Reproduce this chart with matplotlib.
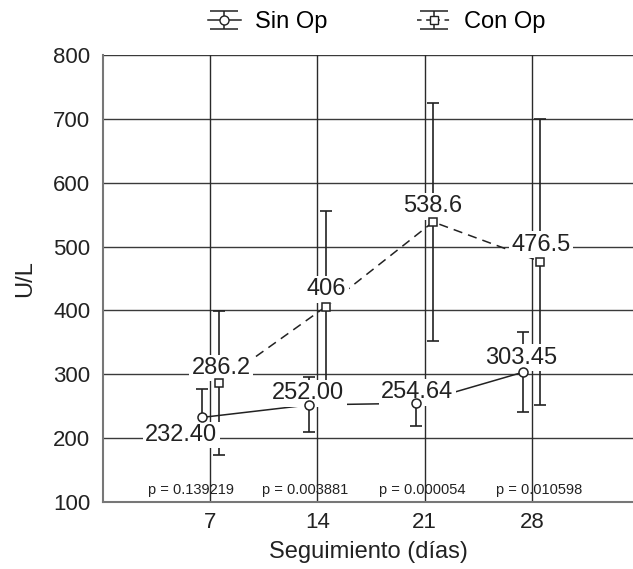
import matplotlib
matplotlib.use("Agg")
import matplotlib.pyplot as plt
from matplotlib.container import ErrorbarContainer
from matplotlib.legend_handler import HandlerErrorbar

plt.rcParams['font.family'] = ['Liberation Sans', 'DejaVu Sans']

days = [7, 14, 21, 28]
sin_mean = [232.40, 252.00, 254.64, 303.45]
sin_sd = [45, 43, 36, 62]
con_mean = [286.2, 406, 538.6, 476.5]
con_sd = [113, 149, 186, 224]
sin_labels = ["232.40", "252.00", "254.64", "303.45"]
con_labels = ["286.2", "406", "538.6", "476.5"]
p_values = ["p = 0.139219", "p = 0.003881", "p = 0.000054", "p = 0.010598"]
yticks = [100, 200, 300, 400, 500, 600, 700, 800]

# label placement (data coords)
sin_lab_pos = [(5.1, 205), (13.4, 270), (20.5, 272), (27.3, 326)]
con_lab_pos = [(7.7, 310), (14.6, 433), (21.5, 563), (28.6, 503)]
p_pos_x = [5.75, 13.2, 20.86, 28.45]
p_pos_y = 119
offset = 0.55

fig = plt.figure(figsize=(6.33, 5.69), dpi=100)
ax = fig.add_axes([103/633, (569-502)/569, 1 - 103/633, (502-55)/569])

ax.set_xlim(0, 34.6)
ax.set_ylim(100, 800)

for y in yticks:
    ax.axhline(y, color='#3a3a3a', lw=1.0, zorder=1)
for d in days:
    ax.axvline(d, color='#2a2a2a', lw=1.0, zorder=1)

sx = [d - offset for d in days]
cx = [d + offset for d in days]

ax.errorbar(sx, sin_mean, yerr=sin_sd, fmt='-', color='#222222',
            lw=1.1, elinewidth=1.2, capsize=4.5, capthick=1.2, zorder=3)
ax.errorbar(cx, con_mean, yerr=con_sd, fmt='--', color='#222222',
            lw=1.1, elinewidth=1.2, capsize=4.5, capthick=1.2, zorder=3,
            dashes=(6, 4))

for (x, y), t in zip(sin_lab_pos + con_lab_pos, sin_labels + con_labels):
    ax.text(x, y, t, fontsize=17, color='#222222', ha='center', va='center',
            zorder=4, bbox=dict(boxstyle='square,pad=0.1', fc='white', ec='none'))

ax.plot(sx, sin_mean, 'o', mfc='white', mec='#222222', ms=6.5, mew=1.1, zorder=5)
ax.plot(cx, con_mean, 's', mfc='white', mec='#222222', ms=6, mew=1.1, zorder=5)

for x, t in zip(p_pos_x, p_values):
    ax.text(x, p_pos_y, t, fontsize=10.5, color='#222222', ha='center',
            va='center', zorder=4)

# legend proxies (drawn outside the visible range)
h1 = ax.errorbar([-50], [0], yerr=[1], fmt='-o', color='#222222', mfc='white',
                 mec='#222222', ms=6.5, lw=1.1, elinewidth=1.1, capsize=10,
                 capthick=1.1, label='Sin Op')
h2 = ax.errorbar([-50], [0], yerr=[1], fmt='--s', color='#222222', mfc='white',
                 mec='#222222', ms=6, lw=1.1, elinewidth=1.1, capsize=10,
                 capthick=1.1, label='Con Op', dashes=(3, 3))

ax.set_xticks(days)
ax.set_xticklabels([str(d) for d in days])
ax.set_yticks(yticks)
ax.tick_params(axis='both', length=0, labelsize=16, colors='#222222')
ax.tick_params(axis='y', pad=9)
ax.tick_params(axis='x', pad=7)

ax.set_xlabel('Seguimiento (días)', fontsize=17, color='#222222', labelpad=6)
ax.set_ylabel('U/L', fontsize=17, color='#222222', labelpad=12)

for s in ['top', 'right']:
    ax.spines[s].set_visible(False)
for s in ['left', 'bottom']:
    ax.spines[s].set_color('#777777')
    ax.spines[s].set_linewidth(1.5)

fig.legend(handles=[h1, h2], loc='center', bbox_to_anchor=(0.595, 1 - 22/569),
           ncol=2, frameon=False, fontsize=17, handlelength=1.4,
           handletextpad=0.6, columnspacing=3.8,
           handler_map={ErrorbarContainer: HandlerErrorbar(yerr_size=0.38)})

fig.savefig('out.png', dpi=100)
